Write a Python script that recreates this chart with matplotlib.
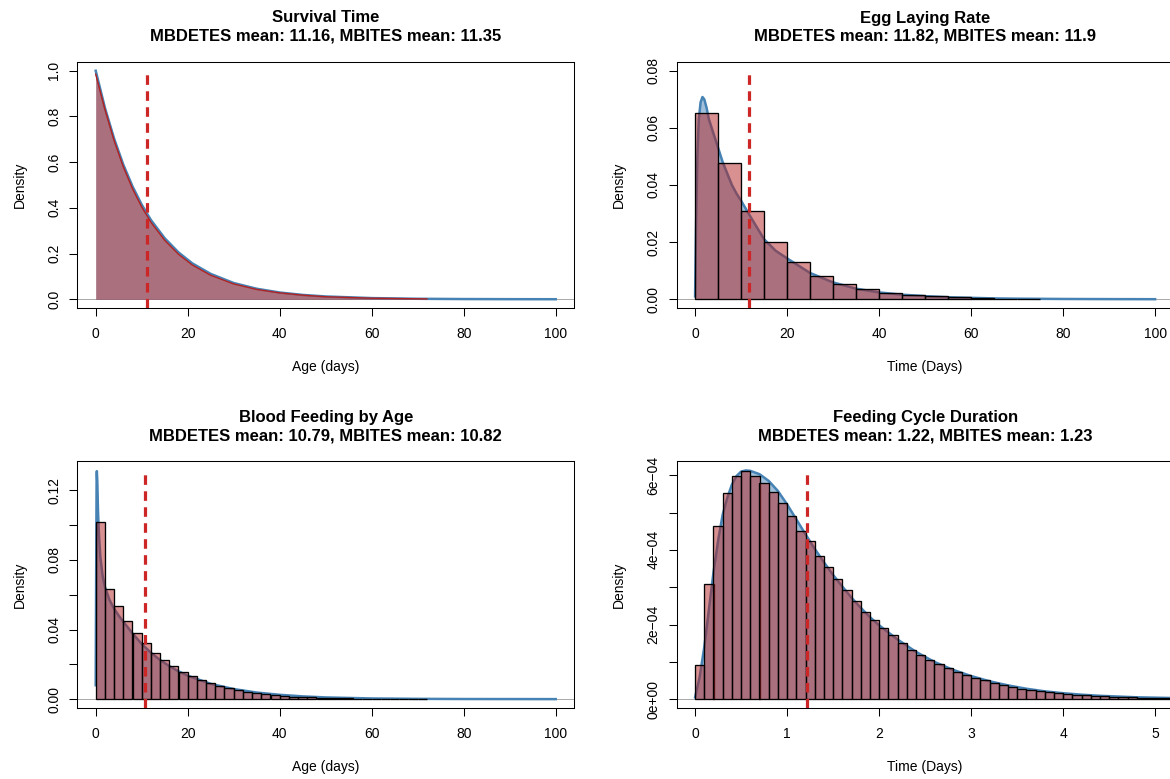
import matplotlib
matplotlib.use('Agg')
import matplotlib.pyplot as plt
import matplotlib.colors as mc
from matplotlib.ticker import FixedLocator, FixedFormatter

plt.rcParams['font.family'] = ['Liberation Sans', 'DejaVu Sans']

W, H, DPI = 1170, 779, 100

# ------------------------------------------------------------------ data
# Panel 1: survival curves (value read at given ages)
surv_x = [0, 2, 4, 6, 8, 10, 12, 15, 18, 21, 25, 30, 35, 40, 45, 50, 60, 70, 80, 90, 100]
surv_mbites = [1.0, 0.838, 0.703, 0.589, 0.494, 0.414, 0.347, 0.267, 0.205, 0.157, 0.111,
               0.071, 0.046, 0.0295, 0.019, 0.0122, 0.0051, 0.0021, 0.0009, 0.0004, 0.00015]
surv_mbdetes_x = [0, 2, 4, 6, 8, 10, 12, 15, 18, 21, 25, 30, 35, 40, 45, 50, 60, 72]
surv_mbdetes = [0.985, 0.832, 0.695, 0.580, 0.484, 0.404, 0.337, 0.258, 0.197, 0.150, 0.105,
                0.067, 0.043, 0.028, 0.018, 0.011, 0.0046, 0.0015]

# Panel 2: egg laying rate (histogram bins of width 5, density curve)
egg_bin_width = 5
egg_hist = [0.0653, 0.0478, 0.0310, 0.0200, 0.0130, 0.0083, 0.0053, 0.0035, 0.0021,
            0.0015, 0.00105, 0.0007, 0.00035, 0.00023, 0.00015]
egg_kde_x = [0, 0.2, 0.5, 0.8, 1.2, 1.6, 2.0, 2.5, 3, 4, 5, 6, 7, 8, 9, 10, 12, 15, 17.5,
             20, 25, 30, 35, 40, 45, 50, 55, 60, 65, 70, 80, 90, 100]
egg_kde_y = [0.001, 0.025, 0.050, 0.063, 0.069, 0.0708, 0.0700, 0.067, 0.063, 0.058, 0.053,
             0.048, 0.044, 0.040, 0.037, 0.0345, 0.029, 0.021, 0.017, 0.0143, 0.0092, 0.0059,
             0.0037, 0.0024, 0.0016, 0.0011, 0.0007, 0.0005, 0.0003, 0.0002, 0.0001,
             0.00005, 0.00002]

# Panel 3: blood feeding by age (bins of width 2)
bf_bin_width = 2
bf_hist = [0.1019, 0.0635, 0.0536, 0.0448, 0.0380, 0.0320, 0.0267, 0.0224, 0.0188, 0.0157,
           0.0132, 0.0111, 0.0092, 0.0076, 0.0063, 0.0054, 0.0044, 0.0036, 0.0029, 0.0025,
           0.0019, 0.0015, 0.0012, 0.0010, 0.0008, 0.0006, 0.0005, 0.0004, 0.0003, 0.00025,
           0.0002, 0.00015, 0.0001, 0.0001, 0.00007, 0.00005]
bf_kde_x = [0, 0.1, 0.2, 0.25, 0.35, 0.5, 0.7, 1.0, 1.5, 2, 3, 4, 5, 6, 8, 10, 12, 14, 16,
            18, 20, 25, 30, 35, 40, 45, 50, 60, 70, 80, 100]
bf_kde_y = [0.008, 0.070, 0.128, 0.131, 0.125, 0.108, 0.095, 0.082, 0.071, 0.0646, 0.057,
            0.052, 0.048, 0.0445, 0.0378, 0.0317, 0.0267, 0.0225, 0.019, 0.016, 0.0135,
            0.0088, 0.0058, 0.0038, 0.0025, 0.0016, 0.0010, 0.0004, 0.00018, 0.00008, 0.00002]

# Panel 4: feeding cycle duration (bins of width 0.1)
fc_bin_width = 0.1
fc_hist = [0.92e-4, 3.10e-4, 4.64e-4, 5.53e-4, 5.99e-4, 6.11e-4, 5.99e-4, 5.79e-4, 5.55e-4,
           5.27e-4, 4.92e-4, 4.52e-4, 4.23e-4, 3.85e-4, 3.53e-4, 3.21e-4, 2.92e-4, 2.63e-4,
           2.34e-4, 2.11e-4, 1.90e-4, 1.71e-4, 1.51e-4, 1.33e-4, 1.185e-4, 1.05e-4,
           0.936e-4, 0.829e-4, 0.731e-4, 0.642e-4, 0.580e-4, 0.508e-4, 0.437e-4, 0.383e-4,
           0.327e-4, 0.284e-4, 0.243e-4, 0.211e-4, 0.182e-4, 0.155e-4, 0.134e-4, 0.115e-4,
           0.099e-4, 0.086e-4, 0.075e-4, 0.064e-4, 0.054e-4, 0.048e-4, 0.040e-4, 0.035e-4,
           0.029e-4, 0.027e-4]
fc_kde_x = [0, 0.05, 0.1, 0.15, 0.2, 0.25, 0.3, 0.35, 0.4, 0.45, 0.5, 0.55, 0.6, 0.7, 0.8,
            0.9, 1.0, 1.1, 1.2, 1.3, 1.4, 1.5, 1.6, 1.7, 1.8, 1.9, 2.0, 2.2, 2.4, 2.6, 2.8,
            3.0, 3.2, 3.4, 3.6, 3.8, 4.0, 4.2, 4.4, 4.6, 4.8, 5.0, 5.2, 5.4]
fc_kde_y = [0.05e-4, 0.6e-4, 1.4e-4, 2.4e-4, 3.4e-4, 4.25e-4, 4.95e-4, 5.4e-4, 5.75e-4,
            5.98e-4, 6.10e-4, 6.13e-4, 6.12e-4, 6.03e-4, 5.85e-4, 5.58e-4, 5.22e-4, 4.82e-4,
            4.42e-4, 4.03e-4, 3.67e-4, 3.33e-4, 3.02e-4, 2.72e-4, 2.45e-4, 2.20e-4, 1.98e-4,
            1.60e-4, 1.27e-4, 1.00e-4, 0.79e-4, 0.62e-4, 0.48e-4, 0.37e-4, 0.28e-4, 0.21e-4,
            0.16e-4, 0.12e-4, 0.09e-4, 0.07e-4, 0.05e-4, 0.04e-4, 0.03e-4, 0.02e-4]

titles = ["Survival Time", "Egg Laying Rate", "Blood Feeding by Age", "Feeding Cycle Duration"]
mbdetes_means = [11.16, 11.82, 10.79, 1.22]
mbdetes_means_txt = ["11.16", "11.82", "10.79", "1.22"]
mbites_means_txt = ["11.35", "11.9", "10.82", "1.23"]
xlabels = ["Age (days)", "Time (Days)", "Age (days)", "Time (Days)"]
ylims = [(0, 1.0), (0, 0.08), (0, 0.1313), (0, 6.125e-4)]
xlims = [(0, 100), (0, 100), (0, 100), (0, 5)]
xticks = [[0, 20, 40, 60, 80, 100]] * 3 + [[0, 1, 2, 3, 4, 5]]
yticks = [[0, 0.2, 0.4, 0.6, 0.8, 1.0],
          [0, 0.02, 0.04, 0.06, 0.08],
          [0, 0.02, 0.04, 0.06, 0.08, 0.10, 0.12],
          [0, 1e-4, 2e-4, 3e-4, 4e-4, 5e-4, 6e-4]]
yticklabels = [["0.0", "0.2", "0.4", "0.6", "0.8", "1.0"],
               ["0.00", "0.02", "0.04", "0.06", "0.08"],
               ["0.00", "", "0.04", "", "0.08", "", "0.12"],
               ["0e+00", "", "2e\u221204", "", "4e\u221204", "", "6e\u221204"]]

# ------------------------------------------------------------------ style
BLUE = '#4682B4'
RED = '#B22222'
DASH = '#CD2626'
BOX_W, BOX_H = 496.8, 246.8
lefts = [77.3, 676.7, 77.3, 676.7]
tops = [61.6, 61.6, 461.5, 461.5]

fig = plt.figure(figsize=(W / DPI, H / DPI), dpi=DPI)


def rgba(c, a):
    r, g, b = mc.to_rgb(c)
    return (r, g, b, a)


for i in range(4):
    L, T = lefts[i], tops[i]
    ax = fig.add_axes([L / W, 1 - (T + BOX_H) / H, BOX_W / W, BOX_H / H])
    x0, x1 = xlims[i]
    y0, y1 = ylims[i]
    rx, ry = x1 - x0, y1 - y0
    ax.set_xlim(x0 - 0.04 * rx, x1 + 0.04 * rx)
    ax.set_ylim(y0 - 0.04 * ry, y1 + 0.04 * ry)

    ax.axhline(0, color='#9a9a9a', lw=0.6, zorder=1)

    if i == 0:
        ax.fill_between(surv_x, surv_mbites, 0, color=rgba(BLUE, 0.5), lw=0, zorder=2)
        ax.plot(surv_x, surv_mbites, color=BLUE, lw=1.8, zorder=3)
        ax.fill_between(surv_mbdetes_x, surv_mbdetes, 0, color=rgba(RED, 0.5), lw=0, zorder=4)
        ax.plot(surv_mbdetes_x, surv_mbdetes, color=RED, lw=1.0, zorder=5)
    else:
        if i == 1:
            kx, ky, hist, bw = egg_kde_x, egg_kde_y, egg_hist, egg_bin_width
        elif i == 2:
            kx, ky, hist, bw = bf_kde_x, bf_kde_y, bf_hist, bf_bin_width
        else:
            kx, ky, hist, bw = fc_kde_x, fc_kde_y, fc_hist, fc_bin_width
        ax.fill_between(kx, ky, 0, color=rgba(BLUE, 0.5), lw=0, zorder=2)
        ax.plot(kx, ky, color=BLUE, lw=1.8, zorder=3)
        edges = [k * bw for k in range(len(hist))]
        ax.bar(edges, hist, width=bw, align='edge', facecolor=rgba(RED, 0.5),
               edgecolor='black', linewidth=0.95, zorder=4)

    m = mbdetes_means[i]
    vl, = ax.plot([m, m], [y0 - 0.04 * ry, y1], color=DASH, lw=2.3, zorder=6)
    vl.set_dashes([3.0, 2.0])

    ax.xaxis.set_major_locator(FixedLocator(xticks[i]))
    ax.yaxis.set_major_locator(FixedLocator(yticks[i]))
    ax.yaxis.set_major_formatter(FixedFormatter(yticklabels[i]))
    ax.tick_params(axis='both', direction='out', length=6, width=0.75, labelsize=10,
                   colors='black')
    ax.tick_params(axis='x', pad=7.5)
    ax.tick_params(axis='y', pad=5.5, labelrotation=90)
    for lab in ax.get_yticklabels():
        lab.set_va('center')
    for s in ax.spines.values():
        s.set_linewidth(0.75)
        s.set_color('black')

    cx = (L + BOX_W / 2) / W
    fig.text(cx, 1 - (T - 39.1) / H, titles[i], ha='center', va='baseline',
             fontsize=12, fontweight='bold')
    fig.text(cx, 1 - (T - 21.1) / H,
             "MBDETES mean: %s, MBITES mean: %s" % (mbdetes_means_txt[i], mbites_means_txt[i]),
             ha='center', va='baseline', fontsize=12, fontweight='bold')
    fig.text(cx, 1 - (T + BOX_H + 63.0) / H, xlabels[i], ha='center', va='baseline',
             fontsize=10)
    fig.text((L - 57.8) / W, 1 - (T + BOX_H / 2) / H, "Density", ha='center',
             va='center', rotation=90, fontsize=10)

fig.savefig('out.png', dpi=DPI)
